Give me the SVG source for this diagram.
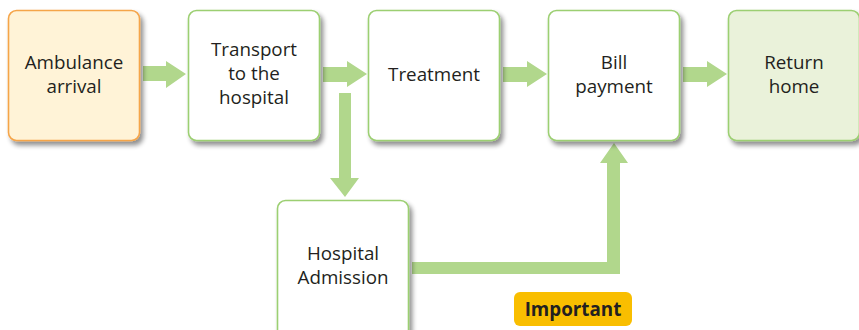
<svg xmlns="http://www.w3.org/2000/svg" width="859" height="330" viewBox="0 0 859 330">
<defs>
<filter id="sh" x="-10%" y="-10%" width="130%" height="130%">
<feGaussianBlur in="SourceAlpha" stdDeviation="2.5"/>
<feOffset dx="3" dy="4" result="b"/>
<feComponentTransfer><feFuncA type="linear" slope="0.45"/></feComponentTransfer>
<feMerge><feMergeNode/><feMergeNode in="SourceGraphic"/></feMerge>
</filter>
</defs>
<style>
.box{stroke:#9ccf72;stroke-width:1.6;fill:#ffffff;filter:url(#sh)}
.t{font-family:"Open Sans","Noto Sans",sans-serif;font-size:18.8px;fill:#231f20;text-anchor:middle}
.arr{fill:#b1d78c}
</style>
<rect width="859" height="330" fill="#ffffff"/>
<g id="connectors">
<path class="arr" d="M143,66 H166 V61 L186,74 L166,88 V81 H143 Z"/>
<path class="arr" d="M323,67 H347 V61 L367,74 L347,87 V82 H323 Z"/>
<path class="arr" d="M503,67 H527 V61 L547,74 L527,87 V82 H503 Z"/>
<path class="arr" d="M683,67 H707 V61 L727,74 L707,87 V82 H683 Z"/>
<path class="arr" d="M339,93 H351 V178 H359 L345,197 L330,178 H339 Z"/>
<path class="arr" d="M412,262 H607 V163 H600 L614,143 L628,163 H620 V274 H412 Z"/>
</g>
<g id="ambulance">
<rect class="box" x="8.5" y="10.5" width="131" height="130" rx="8" style="fill:#fff3d7;stroke:#f5a54a"/>
<text class="t" x="74" y="69">Ambulance</text>
<text class="t" x="74" y="93">arrival</text>
</g>
<g id="transport">
<rect class="box" x="188.5" y="10.5" width="131" height="130" rx="8"/>
<text class="t" x="254" y="56">Transport</text>
<text class="t" x="254" y="80">to the</text>
<text class="t" x="254" y="104">hospital</text>
</g>
<g id="treatment">
<rect class="box" x="368.5" y="10.5" width="131" height="130" rx="8"/>
<text class="t" x="434" y="81">Treatment</text>
</g>
<g id="bill">
<rect class="box" x="548.5" y="10.5" width="131" height="130" rx="8"/>
<text class="t" x="614" y="69">Bill</text>
<text class="t" x="614" y="93">payment</text>
</g>
<g id="return">
<rect class="box" x="728.5" y="10.5" width="131" height="130" rx="8" style="fill:#eaf2da"/>
<text class="t" x="794" y="69">Return</text>
<text class="t" x="794" y="93">home</text>
</g>
<g id="admission">
<rect class="box" x="277.5" y="200.5" width="131" height="140" rx="8"/>
<text class="t" x="343" y="260">Hospital</text>
<text class="t" x="343" y="284">Admission</text>
</g>
<g id="important">
<rect x="514" y="292" width="118" height="34" rx="6" fill="#f9be00"/>
<text class="t" x="573" y="316" style="font-weight:bold">Important</text>
</g>
</svg>
